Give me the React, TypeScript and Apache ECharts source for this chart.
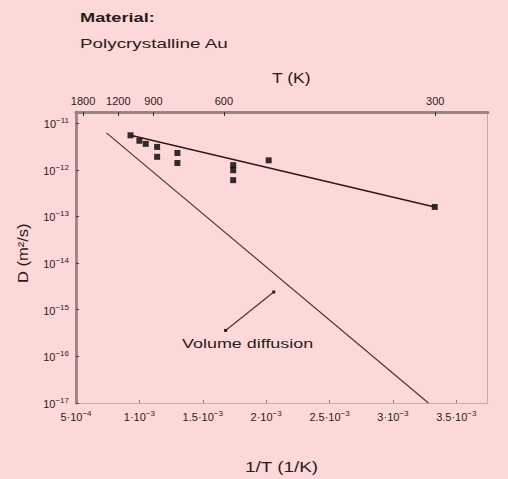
import React, { useEffect, useRef } from "react";
import * as echarts from "echarts";

// 1/T in units of 1e-3 1/K ; D in m^2/s
const gbInvT = [0.93, 1.0, 1.05, 1.14, 1.14, 1.3, 1.3, 1.74, 1.74, 1.74, 2.02, 3.33];
const gbD = [5.5e-12, 4.2e-12, 3.6e-12, 3.1e-12, 1.9e-12, 2.3e-12, 1.4e-12, 1.26e-12, 9.8e-13, 6.0e-13, 1.6e-12, 1.6e-13];
const gbFitInvT = [0.93, 3.33];
const gbFitD = [5.5e-12, 1.6e-13];
const volInvT = [0.74, 3.28];
const volD = [6.2e-12, 1.0e-17];
const pointerInvT = [1.68, 2.06];
const pointerD = [3.6e-16, 2.4e-15];
const topTemps = [1800, 1200, 900, 600, 300];
const xTicks = [0.5, 1, 1.5, 2, 2.5, 3, 3.5];
const yExponents = [-17, -16, -15, -14, -13, -12, -11];

const FONT = "Liberation Sans, Arial, sans-serif";
const BG = "#fdd8d8";
const INK = "#2a1a1a";

const rich = {
  b: { fontSize: 11, color: INK, fontFamily: FONT, verticalAlign: "bottom" },
  s: { fontSize: 8, color: INK, fontFamily: FONT, verticalAlign: "bottom", padding: [0, 0, 5, 0] },
};
const near = (a: number, b: number) => Math.abs(a - b) < 1e-9;

export default function App() {
  const ref = useRef<HTMLDivElement>(null);
  useEffect(() => {
    const chart = echarts.init(ref.current!, null, { renderer: "svg" });
    const pts = (xs: number[], ys: number[]) => xs.map((x, i) => [x, Math.log10(ys[i])]);
    const txt = (text: string, x: number, y: number, font: string, sx: number, extra: any = {}) => ({
      type: "text",
      x,
      y,
      scaleX: sx,
      ...extra,
      style: { text, font, fill: INK, textAlign: "left", textVerticalAlign: "middle", ...(extra.style || {}) },
    });
    chart.setOption({
      animation: false,
      backgroundColor: BG,
      textStyle: { fontFamily: FONT },
      grid: { left: 76, right: 20, top: 112, bottom: 76 },
      xAxis: [
        {
          type: "value",
          position: "bottom",
          min: 0.5,
          max: 3.75,
          interval: 0.5,
          splitLine: { show: false },
          axisLine: { lineStyle: { color: "#c9a9a9", width: 1 } },
          axisTick: { inside: true, length: 3, lineStyle: { color: "#9a7a7a" } },
          axisLabel: {
            color: INK,
            margin: 6,
            showMaxLabel: false,
            rich,
            formatter: (v: number) => {
              if (!xTicks.some((t) => near(t, v))) return "";
              if (near(v, 0.5)) return "{b|5·10}{s|−4}";
              return "{b|" + String(v) + "·10}{s|−3}";
            },
          },
        },
        {
          type: "value",
          position: "top",
          min: 0.5,
          max: 3.75,
          splitLine: { show: false },
          axisLine: { lineStyle: { color: "#9c8484", width: 3 } },
          axisTick: {
            inside: true,
            length: 4,
            lineStyle: { color: "#3a2a2a" },
            customValues: topTemps.map((t) => 1000 / t),
          },
          axisLabel: {
            color: INK,
            fontSize: 11,
            margin: 6,
            customValues: topTemps.map((t) => 1000 / t),
            formatter: (v: number) => String(Math.round(1000 / v)),
          },
        },
      ],
      yAxis: {
        type: "value",
        min: -17,
        max: -10.76,
        interval: 1,
        splitLine: { show: false },
        axisLine: { show: true, lineStyle: { color: "#a08888", width: 3 } },
        axisTick: { inside: true, length: 3, lineStyle: { color: "#5a3a3a" } },
        axisLabel: {
          color: INK,
          margin: 7,
          showMaxLabel: false,
          rich,
          formatter: (v: number) =>
            yExponents.some((e) => near(e, v)) ? "{b|10}{s|" + String(Math.round(v)).replace("-", "−") + "}" : "",
        },
      },
      graphic: [
        txt("Material:", 80, 17, "bold 13px " + FONT, 1.4),
        txt("Polycrystalline Au", 80, 43, "13px " + FONT, 1.45),
        txt("T (K)", 272, 78, "14px " + FONT, 1.25),
        txt("1/T (1/K)", 245, 467, "14px " + FONT, 1.35),
        txt("Volume diffusion", 182, 343, "13px " + FONT, 1.38),
        {
          type: "text",
          x: 23,
          y: 283,
          rotation: Math.PI / 2,
          scaleX: 1.18,
          style: { text: "D (m²/s)", font: "14px " + FONT, fill: INK, textAlign: "left", textVerticalAlign: "middle" },
        },
        {
          type: "rect",
          shape: { x: 487, y: 112, width: 1, height: 291 },
          style: { fill: "#c8a8a8" },
        },
      ],
      series: [
        {
          type: "line",
          data: pts(volInvT, volD),
          symbol: "none",
          lineStyle: { color: "#4a3434", width: 1.2 },
          silent: true,
        },
        {
          type: "line",
          data: pts(gbFitInvT, gbFitD),
          symbol: "none",
          lineStyle: { color: "#2a1a1a", width: 1.5 },
          silent: true,
        },
        {
          type: "line",
          data: pts(pointerInvT, pointerD),
          symbol: ["none", "circle"],
          symbolSize: 3,
          itemStyle: { color: "#2a1a1a" },
          lineStyle: { color: "#4a3434", width: 1.2 },
          silent: true,
        },
        {
          type: "scatter",
          data: pts(gbInvT, gbD),
          symbol: "rect",
          symbolSize: 6,
          itemStyle: { color: "#000000" },
        },
      ],
    });
    return () => chart.dispose();
  }, []);
  return <div ref={ref} style={{ width: 508, height: 479, position: "absolute", left: 0, top: 0 }} />;
}
